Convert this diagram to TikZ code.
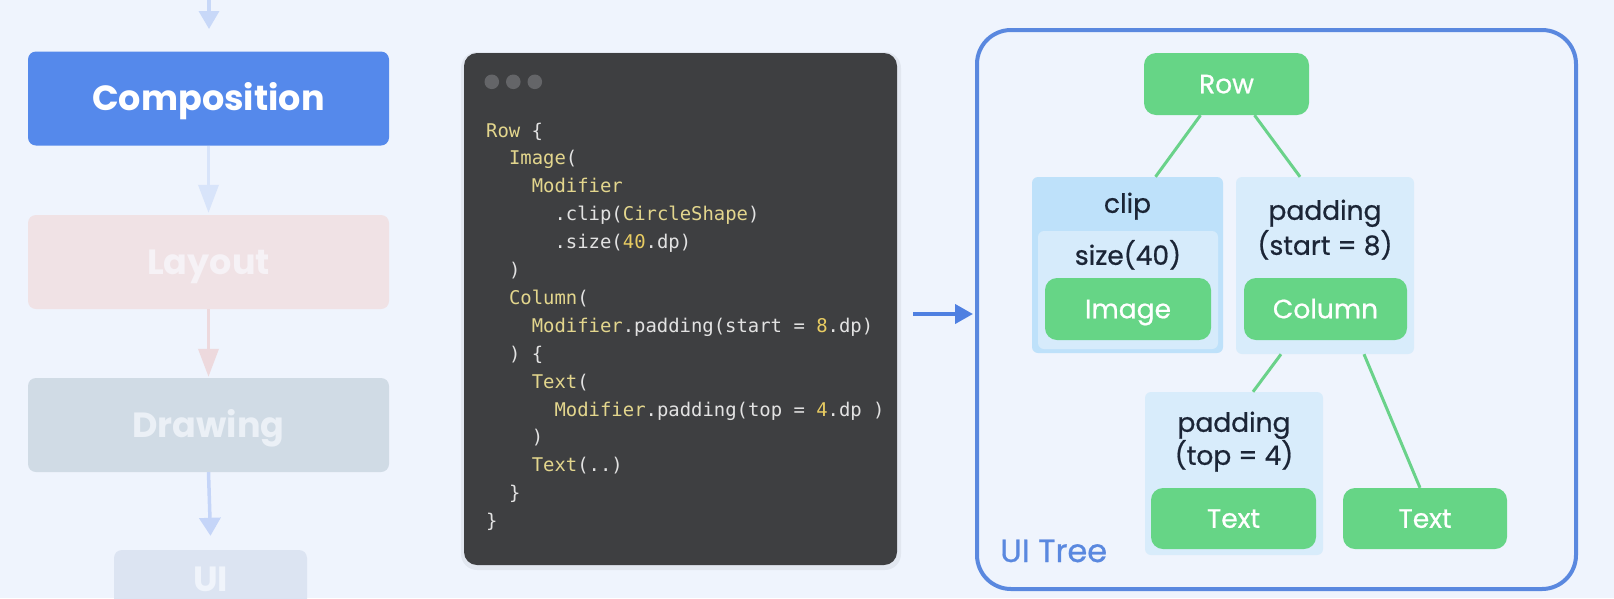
\documentclass[tikz,border=0pt]{standalone}
\usepackage{fontspec}
\setmainfont{Poppins}
\setmonofont{DejaVu Sans Mono}
\newfontfamily\treefont[FakeBold=0.7]{Poppins}
\usepackage{xcolor}
\usetikzlibrary{arrows.meta,positioning,calc}

\definecolor{bgcol}{HTML}{EFF4FD}
\definecolor{compblue}{HTML}{5589EB}
\definecolor{layoutbox}{HTML}{F0E2E5}
\definecolor{layouttext}{HTML}{F6F2F6}
\definecolor{drawbox}{HTML}{D0DBE5}
\definecolor{drawtext}{HTML}{EBF0F6}
\definecolor{uibox}{HTML}{DCE4F2}
\definecolor{uitext}{HTML}{F0F4FB}
\definecolor{topflow}{HTML}{C8D8F8}
\definecolor{flowblue}{HTML}{D8E4FA}
\definecolor{flowpink}{HTML}{EDD9DD}
\definecolor{uiflow}{HTML}{C5D5F8}
\definecolor{codebg}{HTML}{3E3F41}
\definecolor{dotgray}{HTML}{646568}
\definecolor{codewhite}{HTML}{E2E2E2}
\definecolor{codeyellow}{HTML}{E3D68D}
\definecolor{codenum}{HTML}{E8CC62}
\definecolor{arrowblue}{HTML}{4F80E1}
\definecolor{frameblue}{HTML}{5A88DF}
\definecolor{leafgreen}{HTML}{66D586}
\definecolor{edgegreen}{HTML}{6AD28A}
\definecolor{clipfill}{HTML}{BEE1FA}
\definecolor{sizefill}{HTML}{D6EBFB}
\definecolor{padfill}{HTML}{D8ECFB}
\definecolor{labeldark}{HTML}{1B2536}

\newcommand{\ckw}[1]{\textcolor{codeyellow}{#1}}
\newcommand{\cnum}[1]{\textcolor{codenum}{#1}}

\tikzset{
  stage/.style={rounded corners=8pt, minimum width=361pt, minimum height=94pt, inner sep=0pt,
    text height=24.5pt, text depth=0pt, font=\fontsize{35}{40}\selectfont\bfseries},
  flow/.style={line width=3.5pt, -{Triangle[length=28pt,width=20pt]}},
  uinode/.style={fill=leafgreen, rounded corners=12pt, minimum width=165pt, minimum height=62pt,
    inner sep=0pt, text=white, text height=18.5pt, text depth=0pt, font=\treefont\fontsize{26.5}{30}\selectfont},
  modbox/.style={rounded corners=6pt, inner sep=0pt},
  modlabel/.style={text=labeldark, inner sep=0pt, anchor=base, font=\treefont\fontsize{26.5}{30}\selectfont},
  treeedge/.style={draw=edgegreen, line width=3pt},
  codeline/.style={anchor=base west, inner sep=0pt, text=codewhite, font=\fontsize{18.9}{22}\selectfont\ttfamily},
}

\begin{document}
\begin{tikzpicture}[x=1pt, y=-1pt]
\clip (0,0) rectangle (1614,598);
\fill[bgcol] (0,0) rectangle (1614,598);

% Pipeline stages
\node[stage, fill=compblue, text=white] (comp) at (208.5,98.5) {Composition};
\node[stage, fill=layoutbox, text=layouttext] (layout) at (208.5,262) {Layout};
\node[stage, fill=drawbox, text=drawtext] (drawing) at (208.5,425) {Drawing};
\node[stage, fill=uibox, text=uitext, minimum width=193pt, minimum height=58pt] (ui) at (210.5,579) {UI};

\coordinate (topin) at (209,-5);
\coordinate (toptip) at (209,29);
\draw[flow, draw=topflow, -{Triangle[length=18pt,width=20pt]}] (topin) -- (toptip);
\draw[flow, draw=flowblue] (comp.south) -- ([yshift=2pt]layout.north);
\draw[flow, draw=flowpink] (layout.south) -- ([yshift=1pt]drawing.north);
\draw[flow, draw=uiflow, -{Triangle[length=18pt,width=21pt]}] (drawing.south) -- ([yshift=14pt]ui.north);

% Code window
\fill[black, opacity=0.05, rounded corners=16pt] (461,52) rectangle (901,570);
\node[fill=codebg, rounded corners=13pt, minimum width=433pt, minimum height=512pt, inner sep=0pt] (code) at (680.5,309) {};
\foreach \dx in {0,21.5,43}
  \fill[dotgray] ($(code.north west)+(28+\dx,29)$) circle (7.3pt);

\node[codeline] (c1) at (486,137) {\ckw{Row} \{};
\node[codeline] (c2) at (508.8,164.9) {\ckw{Image}(};
\node[codeline] (c3) at (531.6,192.8) {\ckw{Modifier}};
\node[codeline] (c4) at (554.4,220.7) {.clip(\ckw{CircleShape})};
\node[codeline] (c5) at (554.4,248.6) {.size(\cnum{40}.dp)};
\node[codeline] (c6) at (508.8,276.5) {)};
\node[codeline] (c7) at (508.8,304.4) {\ckw{Column}(};
\node[codeline] (c8) at (531.6,332.3) {\ckw{Modifier}.padding(start = \cnum{8}.dp)};
\node[codeline] (c9) at (508.8,360.2) {) \{};
\node[codeline] (c10) at (531.6,388.1) {\ckw{Text}(};
\node[codeline] (c11) at (554.4,416) {\ckw{Modifier}.padding(top = \cnum{4}.dp )};
\node[codeline] (c12) at (531.6,443.9) {)};
\node[codeline] (c13) at (531.6,471.8) {\ckw{Text}(..)};
\node[codeline] (c14) at (508.8,499.7) {\}};
\node[codeline] (c15) at (486,527.6) {\}};

% UI tree frame
\node[draw=frameblue, line width=4pt, rounded corners=34pt, minimum width=599pt, minimum height=559pt, inner sep=0pt] (uitree) at (1276.5,309.5) {};
\node[anchor=base west, inner sep=0pt, text=frameblue, font=\treefont\fontsize{32}{36}\selectfont] (treelbl) at ([xshift=25pt,yshift=29pt]uitree.south west) {UI Tree};
\draw[arrowblue, line width=4pt, -{Triangle[length=18pt,width=19pt]}] ([xshift=16pt,yshift=-5pt]code.east) -- ([xshift=-2pt,yshift=-4.5pt]uitree.west);

% Modifier boxes
\node[modbox, fill=clipfill, minimum width=191pt, minimum height=176pt] (clipbox) at (1127.5,265) {};
\node[modbox, fill=sizefill, minimum width=180pt, minimum height=118pt] (sizebox) at (1128,290) {};
\node[modbox, fill=padfill, minimum width=178pt, minimum height=177pt] (padstart) at (1325,265.5) {};
\node[modbox, fill=padfill, minimum width=178pt, minimum height=163pt] (padtop) at (1234,473.5) {};

\node[modlabel] (cliplbl) at ([yshift=-36pt]clipbox.north) {clip};
\node[modlabel] (sizelbl) at ([yshift=-34pt]sizebox.north) {size(40)};
\node[modlabel] (padslbl) at ([yshift=-43pt]padstart.north) {padding};
\node[modlabel] (padslbltwo) at ([yshift=-78pt]padstart.north) {(start = 8)};
\node[modlabel] (padtlbl) at ([yshift=-40pt]padtop.north) {padding};
\node[modlabel] (padtlbltwo) at ([yshift=-73pt]padtop.north) {(top = 4)};

% Layout nodes
\node[uinode] (row) at (1226.5,84) {Row};
\node[uinode, minimum width=166pt] (image) at (1128,309) {Image};
\node[uinode, minimum width=163pt] (column) at (1325.5,309) {Column};
\node[uinode, minimum height=61pt] (textone) at (1233.5,518.5) {Text};
\node[uinode, minimum width=164pt, minimum height=61pt] (texttwo) at (1425,518.5) {Text};

\draw[treeedge] ([xshift=-26pt]row.south) -- ([xshift=28pt]clipbox.north);
\draw[treeedge] ([xshift=28pt]row.south) -- ([xshift=-25pt]padstart.north);
\draw[treeedge] ([xshift=-44pt]padstart.south) -- ([xshift=19pt]padtop.north);
\draw[treeedge] ([xshift=39pt]padstart.south) -- ([xshift=-5pt]texttwo.north);

\end{tikzpicture}
\end{document}
